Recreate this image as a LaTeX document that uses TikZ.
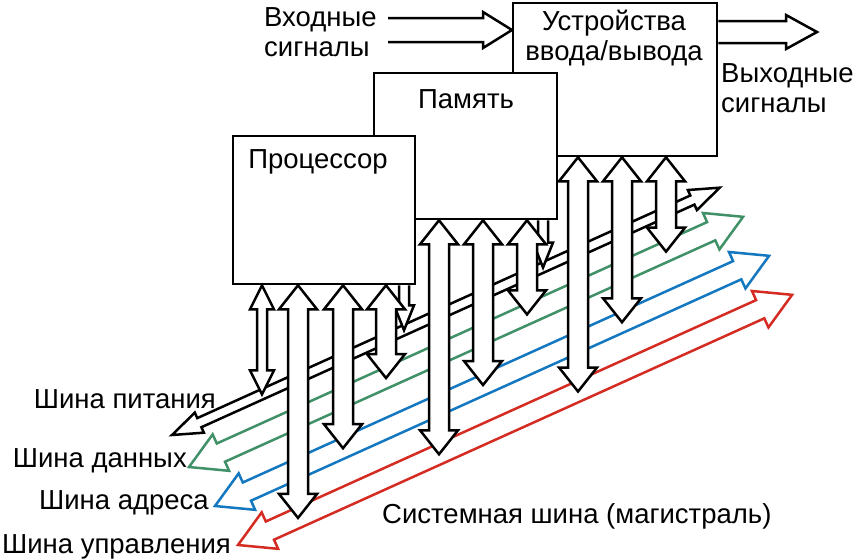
\documentclass[tikz,border=0pt]{standalone}
\usepackage{fontspec}
\setmainfont{Liberation Sans}
\usetikzlibrary{calc}
\definecolor{busgreen}{RGB}{64,144,104}
\definecolor{busblue}{RGB}{20,120,192}
\definecolor{busred}{RGB}{212,44,34}
\tikzset{
  unit/.style={draw, fill=white, line width=2.3pt, inner sep=0pt, anchor=north west},
  barrow/.style={draw, fill=white, line width=2.5pt, line join=miter},
  lbl/.style={inner sep=0pt, font=\fontsize{27.5}{29.5}\selectfont},
}
% flecha hueca de bus: color, punta izquierda, largo, medio ancho, medio ancho punta, largo punta
\newcommand{\sysbus}[6]{%
  \begin{scope}[shift={(#2)}, rotate=24.3]
    \draw[barrow, draw=#1] (0,0) -- (#6,-#5) -- (#6,-#4) -- (#3-#6,-#4) -- (#3-#6,-#5) -- (#3,0)
      -- (#3-#6,#5) -- (#3-#6,#4) -- (#6,#4) -- (#6,#5) -- cycle;
  \end{scope}}
% flecha doble vertical: x, bloque, bus, medio ancho, medio ancho punta
\newcommand{\vdarrow}[5]{%
  \coordinate (t) at (#1,0 |- #2.south);
  \coordinate (b) at (intersection of #3L--#3R and #1,0--#1,600);
  \draw[barrow] (t) -- ($(t)+(#5,24)$) -- ($(t)+(#4,24)$) -- ($(b)+(#4,-24)$) -- ($(b)+(#5,-24)$) -- (b)
    -- ($(b)+(-#5,-24)$) -- ($(b)+(-#4,-24)$) -- ($(t)+(-#4,24)$) -- ($(t)+(-#5,24)$) -- cycle;}
% flecha simple de alimentacion
\newcommand{\busfeed}[3]{%
  \coordinate (t) at (#1,0 |- #2.south);
  \coordinate (b) at (intersection of #3L--#3R and #1,0--#1,600);
  \draw[barrow] ($(t)+(5,0)$) -- ($(b)+(5,-25)$) -- ($(b)+(10,-25)$) -- (b) -- ($(b)+(-10,-25)$)
    -- ($(b)+(-5,-25)$) -- ($(t)+(-5,0)$);}
\begin{document}
\begin{tikzpicture}[x=1pt, y=-1pt]
  \useasboundingbox (0,0) rectangle (854,558);
  % bloques
  \node[unit, minimum width=204, minimum height=153] (io) at (512,2) {};
  \node[unit, minimum width=183, minimum height=146] (mem) at (373,72) {};
  \node[unit, minimum width=182, minimum height=148] (proc) at (232,135) {};
  \node[lbl, align=center] (iotxt) at (614,38) {Устройства\\ввода/вывода};
  \node[lbl] (memtxt) at (466,99) {Память};
  \node[lbl] (proctxt) at (318,162) {Процессор};
  % entradas y salidas
  \node[lbl, align=left, anchor=west] (intxt) at (264,32) {Входные\\сигналы};
  \node[lbl, align=left, anchor=west] (outtxt) at (721,88) {Выходные\\сигналы};
  \coordinate (inp) at (388,30);
  \draw[barrow, fill=none] ($(inp)+(0,-12)$) -- ($(io.west|-inp)+(-29,-12)$) -- ++(0,-6) -- (io.west|-inp)
    -- ($(io.west|-inp)+(-29,18)$) -- ++(0,-6) -- ($(inp)+(0,12)$);
  \coordinate (outp) at (817,32);
  \draw[barrow, fill=none] ($(io.east|-outp)+(0,-11)$) -- ($(outp)+(-31,-11)$) -- ++(0,-6) -- (outp)
    -- ($(outp)+(-31,17)$) -- ++(0,-6) -- ($(io.east|-outp)+(0,11)$);
  % lineas centrales de los buses
  \coordinate (pwrL) at (172,435);   \coordinate (pwrR) at ($(pwrL)+(-24.3:601)$);
  \coordinate (datL) at (189,467);   \coordinate (datR) at ($(datL)+(-24.3:608)$);
  \coordinate (adrL) at (215,506);   \coordinate (adrR) at ($(adrL)+(-24.3:608)$);
  \coordinate (ctlL) at (238,545);   \coordinate (ctlR) at ($(ctlL)+(-24.3:608)$);
  \sysbus{black}{pwrL}{601}{5}{11}{30}
  \sysbus{busgreen}{datL}{608}{10}{20}{35}
  \sysbus{busblue}{adrL}{608}{10}{20}{35}
  \sysbus{busred}{ctlL}{608}{10}{20}{35}
  % conexiones de los bloques
  \busfeed{404}{proc}{pwr}
  \busfeed{543}{mem}{pwr}
  \vdarrow{262}{proc}{pwr}{5}{12}
  \vdarrow{298}{proc}{ctl}{10}{19}
  \vdarrow{343}{proc}{adr}{10}{19}
  \vdarrow{386}{proc}{dat}{10}{19}
  \vdarrow{439}{mem}{ctl}{10}{19}
  \vdarrow{483}{mem}{adr}{10}{19}
  \vdarrow{527}{mem}{dat}{10}{19}
  \vdarrow{578}{io}{ctl}{10}{19}
  \vdarrow{622}{io}{adr}{10}{19}
  \vdarrow{666}{io}{dat}{10}{19}
  % rotulos
  \node[lbl, anchor=base east] (pwrtxt) at (216,408) {Шина питания};
  \node[lbl, anchor=base east] (dattxt) at (187,467) {Шина данных};
  \node[lbl, anchor=base east] (adrtxt) at (209,509) {Шина адреса};
  \node[lbl, anchor=base east] (ctltxt) at (231,553) {Шина управления};
  \node[lbl, anchor=base west] (systxt) at (382,523) {Системная шина (магистраль)};
\end{tikzpicture}
\end{document}
